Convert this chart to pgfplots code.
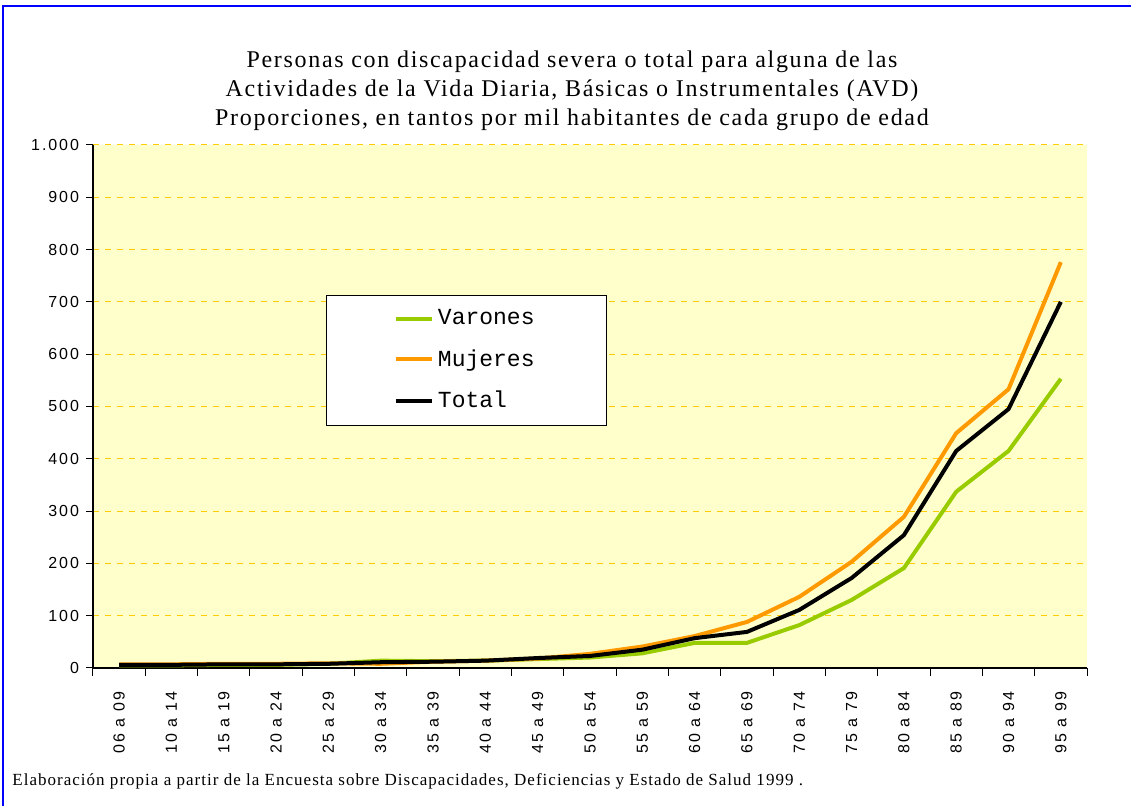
\documentclass[border=0pt]{standalone}
\usepackage{fontspec}
\setmainfont{Liberation Serif}
\setsansfont{Liberation Sans}
\setmonofont{Liberation Mono}
\usepackage{pgfplots}
\pgfplotsset{compat=1.18}
\definecolor{bgyellow}{HTML}{FFFFCC}
\definecolor{gridyellow}{HTML}{FFCC00}
\definecolor{varon}{HTML}{99CC00}
\definecolor{mujer}{HTML}{FF9900}
\definecolor{frameblue}{HTML}{0000FF}
\newcommand{\tickfont}{\sffamily\fontsize{8}{9}\selectfont\addfontfeatures{LetterSpace=12}}

\begin{document}
\begin{tikzpicture}
% outer frame (1px = 0.5pt)
\path[use as bounding box] (0pt,0pt) rectangle (565.5pt,403pt);
\draw[frameblue, line width=1pt] (1.5pt,0pt) -- (1.5pt,400pt) -- (565.5pt,400pt);

\node[align=center, font=\fontsize{12}{14.5}\selectfont\addfontfeatures{LetterSpace=7}] at (286pt,357.5pt)
  {Personas con discapacidad severa o total para alguna de las\\
   Actividades de la Vida Diaria, Básicas o Instrumentales (AVD)\\
   Proporciones, en tantos por mil habitantes de cada grupo de edad};

\node[anchor=west, inner sep=0pt, font=\fontsize{8.5}{9}\selectfont\addfontfeatures{LetterSpace=6}] at (6pt,12.5pt)
  {Elaboración propia a partir de la Encuesta sobre Discapacidades, Deficiencias y Estado de Salud 1999 .};

\begin{axis}[
    at={(46.5pt,69pt)}, anchor=south west,
    scale only axis,
    width=497pt, height=261.5pt,
    xmin=-0.5, xmax=18.5,
    ymin=0, ymax=1000,
    axis lines*=left,
    axis line style={black, line width=0.6pt},
    axis background/.style={fill=bgyellow},
    ytick={0,100,...,1000},
    yticklabels={0,100,200,300,400,500,600,700,800,900,1.000},
    ymajorgrids,
    grid style={gridyellow, dashed, line width=0.5pt},
    xtick={0,...,18},
    xticklabels={06 a 09,10 a 14,15 a 19,20 a 24,25 a 29,30 a 34,35 a 39,40 a 44,45 a 49,50 a 54,55 a 59,60 a 64,65 a 69,70 a 74,75 a 79,80 a 84,85 a 89,90 a 94,95 a 99},
    minor xtick={-0.5,0.5,...,18.5},
    xtick style={draw=none},
    minor x tick style={draw=black, line width=0.5pt},
    minor tick length=4pt,
    ytick style={black, line width=0.5pt},
    major tick length=3.5pt,
    tick align=outside,
    tick pos=left,
    x tick label style={rotate=90, anchor=east, font=\tickfont, xshift=-5pt},
    y tick label style={font=\tickfont},
    /pgf/number format/assume math mode=true,
    legend style={at={(0.234,0.713)}, anchor=north west, draw=black,
        fill=white, inner xsep=34pt, inner ysep=5pt,
        row sep=7pt, font=\ttfamily\fontsize{11.5}{13}\selectfont,
        cells={anchor=west}},
    legend image code/.code={\draw[#1, line width=2pt] (0pt,0pt) -- (18pt,0pt);},
]
\addplot[varon, line width=2pt] coordinates {
(0,5) (1,5) (2,6) (3,6) (4,8) (5,14) (6,13) (7,14) (8,17) (9,20)
(10,28) (11,48) (12,48) (13,82) (14,130) (15,191) (16,337) (17,415) (18,553)
};
\addlegendentry{Varones}
\addplot[mujer, line width=2pt] coordinates {
(0,7) (1,7) (2,8) (3,8) (4,9) (5,8) (6,12) (7,14) (8,18) (9,27)
(10,41) (11,61) (12,88) (13,136) (14,203) (15,289) (16,449) (17,533) (18,776)
};
\addlegendentry{Mujeres}
\addplot[black, line width=2pt] coordinates {
(0,6) (1,6) (2,7) (3,7) (4,8) (5,11) (6,12) (7,14) (8,19) (9,23)
(10,35) (11,57) (12,69) (13,111) (14,172) (15,254) (16,415) (17,495) (18,700)
};
\addlegendentry{Total}
\end{axis}
\end{tikzpicture}
\end{document}
